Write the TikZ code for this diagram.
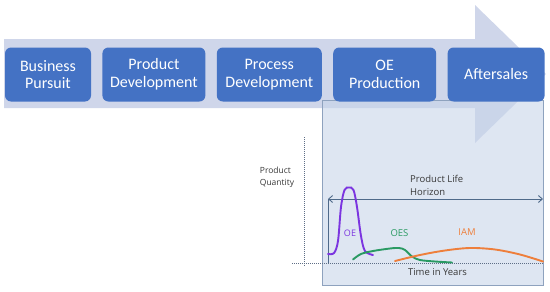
\documentclass[tikz,border=0pt]{standalone}
\usepackage{fontspec}
\setmainfont{Carlito}
\newfontfamily\plotfont{Open Sans}
\usetikzlibrary{arrows.meta, positioning}
\definecolor{stageblue}{HTML}{4472C4}
\definecolor{flowgray}{HTML}{CFD6EA}
\definecolor{panelblue}{HTML}{C8D5E9}
\definecolor{panelline}{HTML}{8EA2BE}
\definecolor{axisgray}{HTML}{5E6E86}
\definecolor{horizonline}{HTML}{4F6A8A}
\definecolor{labelgray}{HTML}{383838}
\definecolor{oepurple}{HTML}{7B35E0}
\definecolor{oesgreen}{HTML}{2A9A63}
\definecolor{iamorange}{HTML}{EE7F3C}

\begin{document}
\begin{tikzpicture}[x=1pt, y=-1pt,
    stage/.style={
        rectangle, rounded corners=6pt, fill=stageblue, draw=none,
        text=white, align=center, minimum height=54pt, inner sep=2pt,
        font=\fontsize{16}{17.6}\selectfont
    },
    axis/.style={axisgray, dash pattern=on 1pt off 1pt, line width=1pt},
    horizon/.style={horizonline, line width=0.9pt},
    curve/.style={line width=1.9pt, smooth, tension=0.55, line cap=round},
    lbl/.style={inner sep=0pt, text=labelgray,
                font=\plotfont\fontsize{9.5}{12.7}\selectfont}
]
\useasboundingbox (0,0) rectangle (550,292);
\fill[flowgray] (4,39) -- (475,39) -- (475,5) -- (546,74)
    -- (475,143) -- (475,108) -- (4,108) -- cycle;
\filldraw[fill=panelblue, fill opacity=0.6, draw=panelline, line width=0.9pt]
    (322,100) rectangle (543,285);

\node[stage, minimum width=86pt] (pursuit) at (48,74.5)
    {Business\\Pursuit};
\node[stage, minimum width=103pt, right=11pt of pursuit] (proddev)
    {Product\\Development};
\node[stage, minimum width=105pt, right=11pt of proddev] (procdev)
    {Process\\Development};
\node[stage, minimum width=103pt, right=11pt of procdev] (oeprod)
    {OE\\Production};
\node[stage, minimum width=97pt, right=11pt of oeprod] (aftersales)
    {Aftersales};

\coordinate (ytop) at (304,137);
\coordinate (ybot) at (304,266);
\coordinate (xleft) at (292,263);
\coordinate (xright) at (543,263);
\draw[axis] (ytop) -- (ybot);
\draw[axis] (xleft) -- (xright);

\coordinate (hleft) at (328,199);
\coordinate (hright) at (543,199);
\coordinate (hbase) at (328,263);
\draw[horizon, {Straight Barb[length=4pt,width=7pt]}-{Straight Barb[length=4pt,width=7pt]}]
    (hleft) -- (hright);
\draw[horizon] (hleft) -- (hbase);

\draw[curve, oepurple] plot coordinates {(328,254) (334,253) (338,241)
    (341,207) (344.5,190) (349,187.5) (353.5,190) (357,207) (361,236)
    (365,251) (373,255)};
\draw[curve, oesgreen] plot coordinates {(353,259.5) (361,254) (373,251)
    (390,248.5) (399,248) (405,250) (412,256.5) (420,260) (435,261.5)
    (452,262.5)};
\draw[curve, iamorange] plot coordinates {(395,261) (420,255) (445,250.5)
    (470,248) (495,249.5) (520,254.5) (543,261.5)};

\node[lbl, align=left, font=\plotfont\fontsize{8.5}{12.3}\selectfont]
    (quantity) at (277,177) {Product\\Quantity};
\node[lbl, align=left, anchor=west] (lifelbl) at (410,185.5)
    {Product Life\\Horizon};
\node[lbl] (timelbl) at (437.5,272) {Time in Years};
\node[lbl, text=oepurple, font=\plotfont\fontsize{9}{11}\selectfont]
    (oelbl) at (350,233) {OE};
\node[lbl, text=oesgreen, font=\plotfont\fontsize{9.5}{11}\selectfont]
    (oeslbl) at (399.5,233) {OES};
\node[lbl, text=iamorange, font=\plotfont\fontsize{9.5}{11}\selectfont]
    (iamlbl) at (467,232) {IAM};
\end{tikzpicture}
\end{document}
